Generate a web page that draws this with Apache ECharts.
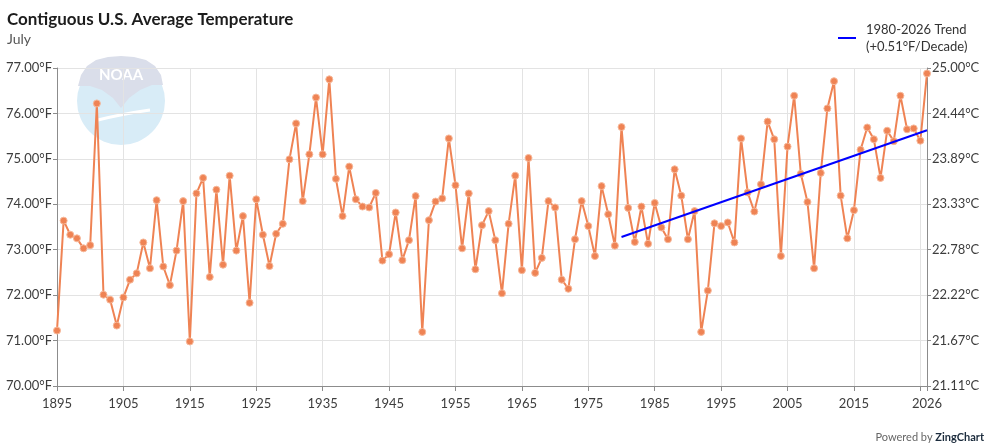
<!DOCTYPE html>
<html>
<head>
<meta charset="utf-8">
<script src="https://cdn.jsdelivr.net/npm/echarts@6/dist/echarts.min.js"></script>
<style>
  html, body { margin: 0; padding: 0; background: #fff; }
  #chart { width: 1000px; height: 447px; }
</style>
</head>
<body>
<div id="chart"></div>
<script>
// July average temperature (°F), one value per year starting at firstYear
var firstYear = 1895;
var lastYear = 2026;
var julyTemps = [
    71.22, 73.64, 73.33, 73.25, 73.03, 73.10, 76.22, 72.01, 71.90, 71.33,
    71.95, 72.34, 72.48, 73.16, 72.59, 74.09, 72.63, 72.22, 72.98, 74.07,
    70.98, 74.24, 74.58, 72.40, 74.32, 72.67, 74.63, 72.98, 73.74, 71.83,
    74.11, 73.33, 72.64, 73.35, 73.57, 74.99, 75.78, 74.07, 75.10, 76.35,
    75.10, 76.75, 74.56, 73.74, 74.83, 74.11, 73.95, 73.93, 74.25, 72.76,
    72.90, 73.82, 72.77, 73.21, 74.18, 71.19, 73.65, 74.06, 74.13, 75.45,
    74.42, 73.03, 74.24, 72.57, 73.54, 73.85, 73.21, 72.04, 73.57, 74.63,
    72.55, 75.02, 72.49, 72.82, 74.07, 73.93, 72.34, 72.14, 73.23, 74.07,
    73.52, 72.86, 74.40, 73.78, 73.09, 75.70, 73.92, 73.17, 73.95, 73.13,
    74.03, 73.49, 73.23, 74.77, 74.19, 73.23, 73.85, 71.19, 72.10, 73.58,
    73.52, 73.60, 73.16, 75.45, 74.26, 73.84, 74.44, 75.82, 75.43, 72.86,
    75.27, 76.39, 74.67, 74.05, 72.59, 74.69, 76.11, 76.71, 74.19, 73.25,
    73.87, 75.20, 75.69, 75.43, 74.58, 75.62, 75.39, 76.39, 75.65, 75.67,
    75.40, 76.88
];
// trend line end points [year, °F]
var trendYears = [1980, 2026];
var trendTemps = [73.28, 75.63];
var trendName = '1980-2026 Trend\n(+0.51°F/Decade)';

var tempData = julyTemps.map(function (v, i) {
    return [firstYear + i, v];
});
var trendData = trendYears.map(function (y, i) {
    return [y, trendTemps[i]];
});

var font = 'Lato, "Noto Sans", sans-serif';
var axisGray = '#8c8c8c';
var labelColor = '#3d3d3d';

var chart = echarts.init(document.getElementById('chart'));
chart.setOption({
    animation: false,
    textStyle: { fontFamily: font },
    title: {
        text: 'Contiguous U.S. Average Temperature',
        subtext: 'July',
        left: 2,
        top: 6,
        itemGap: 4,
        textStyle: { fontSize: 17, fontWeight: 'bold', color: '#1c1c1c', fontFamily: font },
        subtextStyle: { fontSize: 14, color: '#555', fontFamily: font }
    },
    legend: {
        left: 833,
        top: 16,
        icon: 'rect',
        itemWidth: 18,
        itemHeight: 2,
        itemGap: 8,
        textStyle: { fontSize: 13, color: '#333', lineHeight: 17, padding: [0, 0, 0, 5], fontFamily: font },
        data: [trendName]
    },
    grid: {
        left: 57,
        right: 73,
        top: 68,
        bottom: 61
    },
    xAxis: {
        type: 'value',
        min: firstYear,
        max: lastYear,
        interval: 10,
        axisLine: { lineStyle: { color: axisGray } },
        axisTick: { show: true, length: 5, lineStyle: { color: axisGray } },
        splitLine: { show: true, lineStyle: { color: '#e3e3e3' } },
        axisLabel: {
            color: labelColor,
            fontSize: 13,
            margin: 11,
            showMaxLabel: true,
            formatter: function (v) {
                return v === 2025 ? '' : String(v);
            }
        }
    },
    yAxis: [
        {
            type: 'value',
            min: 70,
            max: 77,
            interval: 1,
            position: 'left',
            axisLine: { show: true, lineStyle: { color: axisGray } },
            axisTick: { show: true, length: 4, lineStyle: { color: axisGray } },
            splitLine: { show: true, lineStyle: { color: '#e3e3e3' } },
            axisLabel: {
                color: labelColor,
                fontSize: 13,
                margin: 5,
                formatter: function (v) { return v.toFixed(2) + '°F'; }
            }
        },
        {
            type: 'value',
            min: 70,
            max: 77,
            interval: 1,
            position: 'right',
            axisLine: { show: true, lineStyle: { color: axisGray } },
            axisTick: { show: true, length: 4, lineStyle: { color: axisGray } },
            splitLine: { show: false },
            axisLabel: {
                color: labelColor,
                fontSize: 13,
                margin: 5,
                formatter: function (v) { return ((v - 32) * 5 / 9).toFixed(2) + '°C'; }
            }
        }
    ],
    series: [
        {
            name: 'July',
            type: 'line',
            data: tempData,
            symbol: 'circle',
            symbolSize: 7,
            lineStyle: { color: '#ef8354', width: 2 },
            itemStyle: { color: '#ef8354', borderColor: '#f6b89a', borderWidth: 1 },
            z: 3
        },
        {
            name: trendName,
            type: 'line',
            data: trendData,
            symbol: 'none',
            lineStyle: { color: '#0000ff', width: 2 },
            itemStyle: { color: '#0000ff' },
            z: 4
        }
    ],
    graphic: [
        // faded NOAA logo watermark
        {
            type: 'group',
            z: -10,
            silent: true,
            children: [
                {
                    type: 'circle',
                    shape: { cx: 121, cy: 101, r: 44 },
                    style: { fill: '#d8ecf7' }
                },
                {
                    type: 'polygon',
                    shape: {
                        points: [[78, 86], [81, 75], [87, 66], [96, 60], [108, 57], [121, 56],
                            [134, 57], [146, 60], [155, 66], [161, 75], [163, 85], [152, 85],
                            [140, 90], [129, 98], [121, 108], [113, 98], [102, 90], [90, 86]]
                    },
                    style: { fill: '#dadeea' }
                },
                {
                    type: 'bezierCurve',
                    shape: { x1: 98, y1: 120, cpx1: 122, cpy1: 114, x2: 150, y2: 110 },
                    style: { fill: null, stroke: '#ffffff', lineWidth: 3 }
                },
                {
                    type: 'text',
                    x: 121,
                    y: 75,
                    style: {
                        text: 'NOAA',
                        fill: '#ffffff',
                        font: 'bold 15px ' + font,
                        align: 'center',
                        verticalAlign: 'middle'
                    }
                }
            ]
        },
        {
            type: 'text',
            right: 16,
            bottom: 4,
            style: {
                text: '{a|Powered by }{b|ZingChart}',
                rich: {
                    a: { fontSize: 11, fill: '#666', fontFamily: font },
                    b: { fontSize: 11, fill: '#1b2b3c', fontWeight: 'bold', fontFamily: font }
                }
            }
        }
    ]
});
</script>
</body>
</html>
